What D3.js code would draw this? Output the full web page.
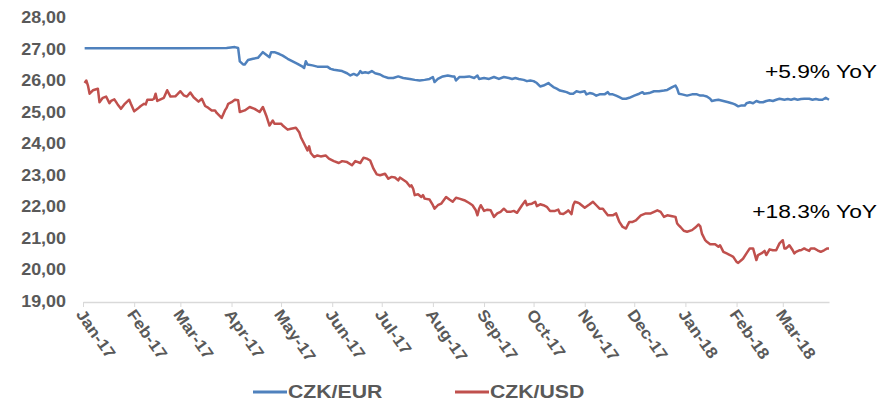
<!DOCTYPE html>
<html>
<head>
<meta charset="utf-8">
<script src="https://cdn.jsdelivr.net/npm/d3@7/dist/d3.min.js"></script>
<style>
  html, body { margin: 0; padding: 0; background: #fff; }
  svg { display: block; }
  text { font-family: "Liberation Sans", Arial, sans-serif; }
</style>
</head>
<body>
<svg id="chart" width="883" height="401"></svg>
<script>
// ---------------- DATA ----------------
const yTicks = [19, 20, 21, 22, 23, 24, 25, 26, 27, 28];
const monthTicks = ["2017-01-01","2017-02-01","2017-03-01","2017-04-01","2017-05-01","2017-06-01",
  "2017-07-01","2017-08-01","2017-09-01","2017-10-01","2017-11-01","2017-12-01",
  "2018-01-01","2018-02-01","2018-03-01"];
const seriesNames = ["CZK/EUR", "CZK/USD"];
const annotations = ["+5.9% YoY", "+18.3% YoY"];

const czkEur = [
 ["2017-01-02",27.02],["2017-02-01",27.02],["2017-03-01",27.02],["2017-03-29",27.03],["2017-04-03",27.06],
 ["2017-04-05",27.03],["2017-04-06",26.61],["2017-04-08",26.51],["2017-04-09",26.51],["2017-04-11",26.65],
 ["2017-04-14",26.69],["2017-04-17",26.72],["2017-04-19",26.84],["2017-04-20",26.90],["2017-04-22",26.82],
 ["2017-04-24",26.74],["2017-04-25",26.90],["2017-04-27",26.90],["2017-04-30",26.84],["2017-05-02",26.79],
 ["2017-05-05",26.69],["2017-05-08",26.61],["2017-05-11",26.53],["2017-05-14",26.44],["2017-05-15",26.40],
 ["2017-05-16",26.61],["2017-05-17",26.51],["2017-05-20",26.48],["2017-05-23",26.44],["2017-05-26",26.44],
 ["2017-05-29",26.44],["2017-05-31",26.37],["2017-06-02",26.34],["2017-06-05",26.32],["2017-06-07",26.30],
 ["2017-06-10",26.23],["2017-06-12",26.16],["2017-06-14",26.21],["2017-06-16",26.16],["2017-06-17",26.21],
 ["2017-06-18",26.30],["2017-06-19",26.24],["2017-06-21",26.26],["2017-06-23",26.24],["2017-06-25",26.30],
 ["2017-06-27",26.23],["2017-06-30",26.19],["2017-07-02",26.13],["2017-07-05",26.08],["2017-07-08",26.08],
 ["2017-07-11",26.13],["2017-07-14",26.08],["2017-07-18",26.05],["2017-07-21",26.02],["2017-07-24",26.00],
 ["2017-07-27",26.02],["2017-07-30",26.05],["2017-08-01",26.11],["2017-08-02",25.95],["2017-08-04",26.05],
 ["2017-08-07",26.13],["2017-08-10",26.16],["2017-08-13",26.13],["2017-08-14",26.13],["2017-08-15",26.00],
 ["2017-08-17",26.11],["2017-08-20",26.11],["2017-08-23",26.13],["2017-08-26",26.08],["2017-08-28",26.16],
 ["2017-08-29",26.05],["2017-09-01",26.08],["2017-09-04",26.05],["2017-09-07",26.11],["2017-09-10",26.05],
 ["2017-09-13",26.11],["2017-09-16",26.08],["2017-09-18",26.05],["2017-09-20",26.08],["2017-09-22",26.05],
 ["2017-09-25",26.02],["2017-09-27",25.98],["2017-09-29",26.00],["2017-10-01",25.98],["2017-10-03",25.92],
 ["2017-10-05",25.81],["2017-10-07",25.84],["2017-10-10",25.92],["2017-10-11",25.87],["2017-10-13",25.79],
 ["2017-10-15",25.74],["2017-10-17",25.68],["2017-10-19",25.66],["2017-10-21",25.63],["2017-10-23",25.58],
 ["2017-10-25",25.58],["2017-10-27",25.66],["2017-10-29",25.63],["2017-11-01",25.66],["2017-11-02",25.56],
 ["2017-11-04",25.60],["2017-11-06",25.58],["2017-11-08",25.52],["2017-11-10",25.56],["2017-11-13",25.56],
 ["2017-11-15",25.63],["2017-11-16",25.56],["2017-11-18",25.56],["2017-11-20",25.52],["2017-11-22",25.47],
 ["2017-11-24",25.42],["2017-11-26",25.42],["2017-11-28",25.45],["2017-12-01",25.52],["2017-12-04",25.58],
 ["2017-12-06",25.63],["2017-12-07",25.58],["2017-12-10",25.60],["2017-12-13",25.66],["2017-12-16",25.66],
 ["2017-12-19",25.68],["2017-12-21",25.70],["2017-12-24",25.79],["2017-12-26",25.84],["2017-12-27",25.74],
 ["2017-12-28",25.58],["2017-12-30",25.56],["2018-01-02",25.52],["2018-01-05",25.56],["2018-01-08",25.56],
 ["2018-01-10",25.52],["2018-01-12",25.52],["2018-01-14",25.49],["2018-01-16",25.42],["2018-01-17",25.35],
 ["2018-01-19",25.37],["2018-01-21",25.39],["2018-01-24",25.35],["2018-01-27",25.31],["2018-01-29",25.28],
 ["2018-01-31",25.24],["2018-02-02",25.18],["2018-02-04",25.21],["2018-02-06",25.21],["2018-02-07",25.28],
 ["2018-02-09",25.31],["2018-02-11",25.28],["2018-02-13",25.35],["2018-02-15",25.31],["2018-02-17",25.31],
 ["2018-02-19",25.35],["2018-02-21",25.37],["2018-02-23",25.35],["2018-02-25",25.39],["2018-02-27",25.42],
 ["2018-03-02",25.39],["2018-03-04",25.41],["2018-03-06",25.39],["2018-03-08",25.42],["2018-03-10",25.39],
 ["2018-03-12",25.41],["2018-03-14",25.42],["2018-03-17",25.42],["2018-03-19",25.39],["2018-03-21",25.41],
 ["2018-03-23",25.39],["2018-03-25",25.39],["2018-03-27",25.45],["2018-03-28",25.42],["2018-03-29",25.39]
];

const czkUsd = [
 ["2017-01-02",25.92],["2017-01-03",26.00],["2017-01-04",25.84],["2017-01-05",25.58],["2017-01-07",25.69],
 ["2017-01-10",25.74],["2017-01-11",25.31],["2017-01-13",25.45],["2017-01-15",25.49],["2017-01-17",25.28],
 ["2017-01-18",25.35],["2017-01-20",25.40],["2017-01-22",25.24],["2017-01-24",25.10],["2017-01-26",25.24],
 ["2017-01-29",25.39],["2017-01-30",25.26],["2017-02-01",25.02],["2017-02-03",25.10],["2017-02-05",25.19],
 ["2017-02-07",25.26],["2017-02-08",25.24],["2017-02-09",25.39],["2017-02-12",25.39],["2017-02-13",25.42],
 ["2017-02-14",25.58],["2017-02-15",25.35],["2017-02-19",25.45],["2017-02-21",25.69],["2017-02-23",25.49],
 ["2017-02-26",25.50],["2017-02-27",25.55],["2017-03-01",25.66],["2017-03-03",25.53],["2017-03-05",25.49],
 ["2017-03-07",25.62],["2017-03-09",25.47],["2017-03-12",25.33],["2017-03-14",25.42],["2017-03-16",25.19],
 ["2017-03-18",25.13],["2017-03-20",25.05],["2017-03-22",25.05],["2017-03-23",24.97],["2017-03-26",24.81],
 ["2017-03-28",25.05],["2017-03-29",25.13],["2017-03-30",25.26],["2017-04-01",25.31],["2017-04-03",25.39],
 ["2017-04-05",25.37],["2017-04-06",25.00],["2017-04-09",25.05],["2017-04-12",25.16],["2017-04-15",25.10],
 ["2017-04-18",25.00],["2017-04-20",25.16],["2017-04-22",24.89],["2017-04-24",24.57],["2017-04-26",24.73],
 ["2017-04-27",24.63],["2017-05-01",24.63],["2017-05-02",24.57],["2017-05-05",24.44],["2017-05-07",24.47],
 ["2017-05-10",24.50],["2017-05-12",24.36],["2017-05-13",24.20],["2017-05-15",23.99],["2017-05-17",23.78],
 ["2017-05-18",23.91],["2017-05-19",23.70],["2017-05-21",23.57],["2017-05-23",23.62],["2017-05-25",23.59],
 ["2017-05-28",23.62],["2017-05-30",23.52],["2017-06-02",23.44],["2017-06-05",23.38],["2017-06-07",23.44],
 ["2017-06-10",23.41],["2017-06-13",23.31],["2017-06-15",23.44],["2017-06-18",23.38],["2017-06-20",23.55],
 ["2017-06-22",23.52],["2017-06-24",23.46],["2017-06-26",23.20],["2017-06-28",23.02],["2017-06-30",22.99],
 ["2017-07-03",23.04],["2017-07-05",22.88],["2017-07-07",22.94],["2017-07-09",22.92],["2017-07-11",22.83],
 ["2017-07-12",22.92],["2017-07-14",22.85],["2017-07-16",22.78],["2017-07-18",22.64],["2017-07-19",22.67],
 ["2017-07-20",22.57],["2017-07-21",22.36],["2017-07-23",22.39],["2017-07-25",22.30],["2017-07-26",22.36],
 ["2017-07-27",22.25],["2017-07-30",22.22],["2017-08-01",22.04],["2017-08-02",21.93],["2017-08-04",22.04],
 ["2017-08-06",22.09],["2017-08-09",22.30],["2017-08-11",22.22],["2017-08-13",22.15],["2017-08-15",22.28],
 ["2017-08-17",22.25],["2017-08-20",22.20],["2017-08-23",22.11],["2017-08-25",22.04],["2017-08-27",21.88],
 ["2017-08-28",21.72],["2017-08-29",21.93],["2017-08-30",22.04],["2017-09-01",21.86],["2017-09-03",21.90],
 ["2017-09-05",21.88],["2017-09-07",21.67],["2017-09-09",21.78],["2017-09-11",21.83],["2017-09-13",21.93],
 ["2017-09-15",21.83],["2017-09-17",21.83],["2017-09-19",21.86],["2017-09-21",21.80],["2017-09-22",21.88],
 ["2017-09-24",22.04],["2017-09-26",22.18],["2017-09-27",22.04],["2017-09-28",22.07],["2017-09-30",22.09],
 ["2017-10-02",22.15],["2017-10-03",22.01],["2017-10-05",22.07],["2017-10-07",22.04],["2017-10-09",21.99],
 ["2017-10-11",21.86],["2017-10-14",21.86],["2017-10-16",21.90],["2017-10-17",21.78],["2017-10-19",21.76],
 ["2017-10-21",21.83],["2017-10-22",21.88],["2017-10-24",21.76],["2017-10-25",22.04],["2017-10-26",22.15],
 ["2017-10-28",22.12],["2017-10-29",22.09],["2017-11-01",21.96],["2017-11-04",22.07],["2017-11-06",22.15],
 ["2017-11-08",22.04],["2017-11-10",21.93],["2017-11-12",21.93],["2017-11-13",21.86],["2017-11-15",21.72],
 ["2017-11-18",21.72],["2017-11-20",21.78],["2017-11-22",21.51],["2017-11-24",21.35],["2017-11-26",21.30],
 ["2017-11-27",21.41],["2017-11-28",21.51],["2017-11-30",21.51],["2017-12-02",21.56],["2017-12-05",21.72],
 ["2017-12-08",21.78],["2017-12-11",21.78],["2017-12-13",21.83],["2017-12-15",21.88],["2017-12-17",21.83],
 ["2017-12-19",21.67],["2017-12-21",21.72],["2017-12-24",21.69],["2017-12-26",21.67],["2017-12-27",21.46],
 ["2017-12-28",21.40],["2017-12-29",21.35],["2017-12-31",21.23],["2018-01-02",21.20],["2018-01-05",21.25],
 ["2018-01-07",21.33],["2018-01-09",21.43],["2018-01-10",21.37],["2018-01-11",21.14],["2018-01-13",20.93],
 ["2018-01-14",20.88],["2018-01-16",20.80],["2018-01-19",20.80],["2018-01-21",20.72],["2018-01-22",20.77],
 ["2018-01-24",20.56],["2018-01-26",20.51],["2018-01-28",20.46],["2018-01-30",20.40],["2018-02-01",20.24],
 ["2018-02-02",20.21],["2018-02-04",20.30],["2018-02-05",20.35],["2018-02-07",20.51],["2018-02-09",20.67],
 ["2018-02-11",20.67],["2018-02-13",20.30],["2018-02-14",20.46],["2018-02-16",20.51],["2018-02-18",20.59],
 ["2018-02-19",20.46],["2018-02-21",20.64],["2018-02-23",20.61],["2018-02-25",20.61],["2018-02-27",20.83],
 ["2018-03-01",20.93],["2018-03-02",20.67],["2018-03-03",20.67],["2018-03-05",20.77],["2018-03-07",20.61],
 ["2018-03-08",20.51],["2018-03-09",20.56],["2018-03-11",20.61],["2018-03-12",20.61],["2018-03-14",20.67],
 ["2018-03-15",20.64],["2018-03-17",20.59],["2018-03-18",20.67],["2018-03-20",20.67],["2018-03-22",20.61],
 ["2018-03-24",20.56],["2018-03-26",20.61],["2018-03-28",20.67],["2018-03-29",20.67]
];

// ---------------- CHART ----------------
const parse = d3.timeParse("%Y-%m-%d");
const colors = ["#4F81BD", "#C0504D"];
const svg = d3.select("#chart");

const x = d3.scaleTime()
  .domain([parse("2017-01-01"), parse("2018-03-29")])
  .range([83, 829]);
const y = d3.scaleLinear().domain([19, 28]).range([301, 17.5]);

const locale = d3.formatLocale({decimal: ",", thousands: " ", grouping: [3], currency: ["", ""]});
const fmtY = locale.format(".2f");
const fmtX = d3.timeFormat("%b-%y");

// Y labels (no axis line)
svg.append("g").selectAll("text").data(yTicks).join("text")
  .attr("transform", d => `translate(66,${y(d)}) scale(1.12,1)`)
  .attr("dy", "0.35em")
  .attr("text-anchor", "end")
  .attr("font-size", 16).attr("font-weight", "bold").attr("fill", "#595959")
  .text(d => fmtY(d));

// X axis
const ticks = monthTicks.map(parse);
const xAxis = svg.append("g").attr("transform", "translate(0,302)")
  .call(d3.axisBottom(x).tickValues(ticks).tickSize(5).tickSizeOuter(0).tickFormat(""));
xAxis.select(".domain").attr("stroke", "#d9d9d9").attr("stroke-width", 1.5);
xAxis.selectAll(".tick line").attr("stroke", "#d9d9d9").attr("stroke-width", 1);

svg.append("g").selectAll("text").data(ticks).join("text")
  .attr("transform", d => `translate(${x(d) - 3},311) rotate(55) scale(1.1,1)`)
  .attr("dy", "0.35em")
  .attr("text-anchor", "start")
  .attr("font-size", 16).attr("font-weight", "bold").attr("fill", "#595959")
  .text(d => fmtX(d));

// Lines
const line = d3.line().x(d => x(parse(d[0]))).y(d => y(d[1]));
[czkEur, czkUsd].forEach((s, i) => {
  svg.append("path").datum(s)
    .attr("d", line)
    .attr("fill", "none")
    .attr("stroke", colors[i])
    .attr("stroke-width", 2.5)
    .attr("stroke-linejoin", "round");
});

// Annotations
const annoPos = [[877, 78], [877, 218]];
annotations.forEach((t, i) => {
  svg.append("text")
    .attr("transform", `translate(${annoPos[i][0]},${annoPos[i][1]}) scale(1.2,1)`)
    .attr("text-anchor", "end")
    .attr("font-size", 19).attr("fill", "#000")
    .text(t);
});

// Legend
const legX = [253, 455];
seriesNames.forEach((n, i) => {
  const g = svg.append("g").attr("transform", `translate(${legX[i]},392)`);
  g.append("line").attr("x1", 0).attr("x2", 34).attr("y1", 0).attr("y2", 0)
    .attr("stroke", colors[i]).attr("stroke-width", 3);
  g.append("text")
    .attr("transform", "translate(35,5.5) scale(1.18,1)")
    .attr("font-size", 18).attr("font-weight", "bold").attr("fill", "#595959")
    .text(n);
});
</script>
</body>
</html>
